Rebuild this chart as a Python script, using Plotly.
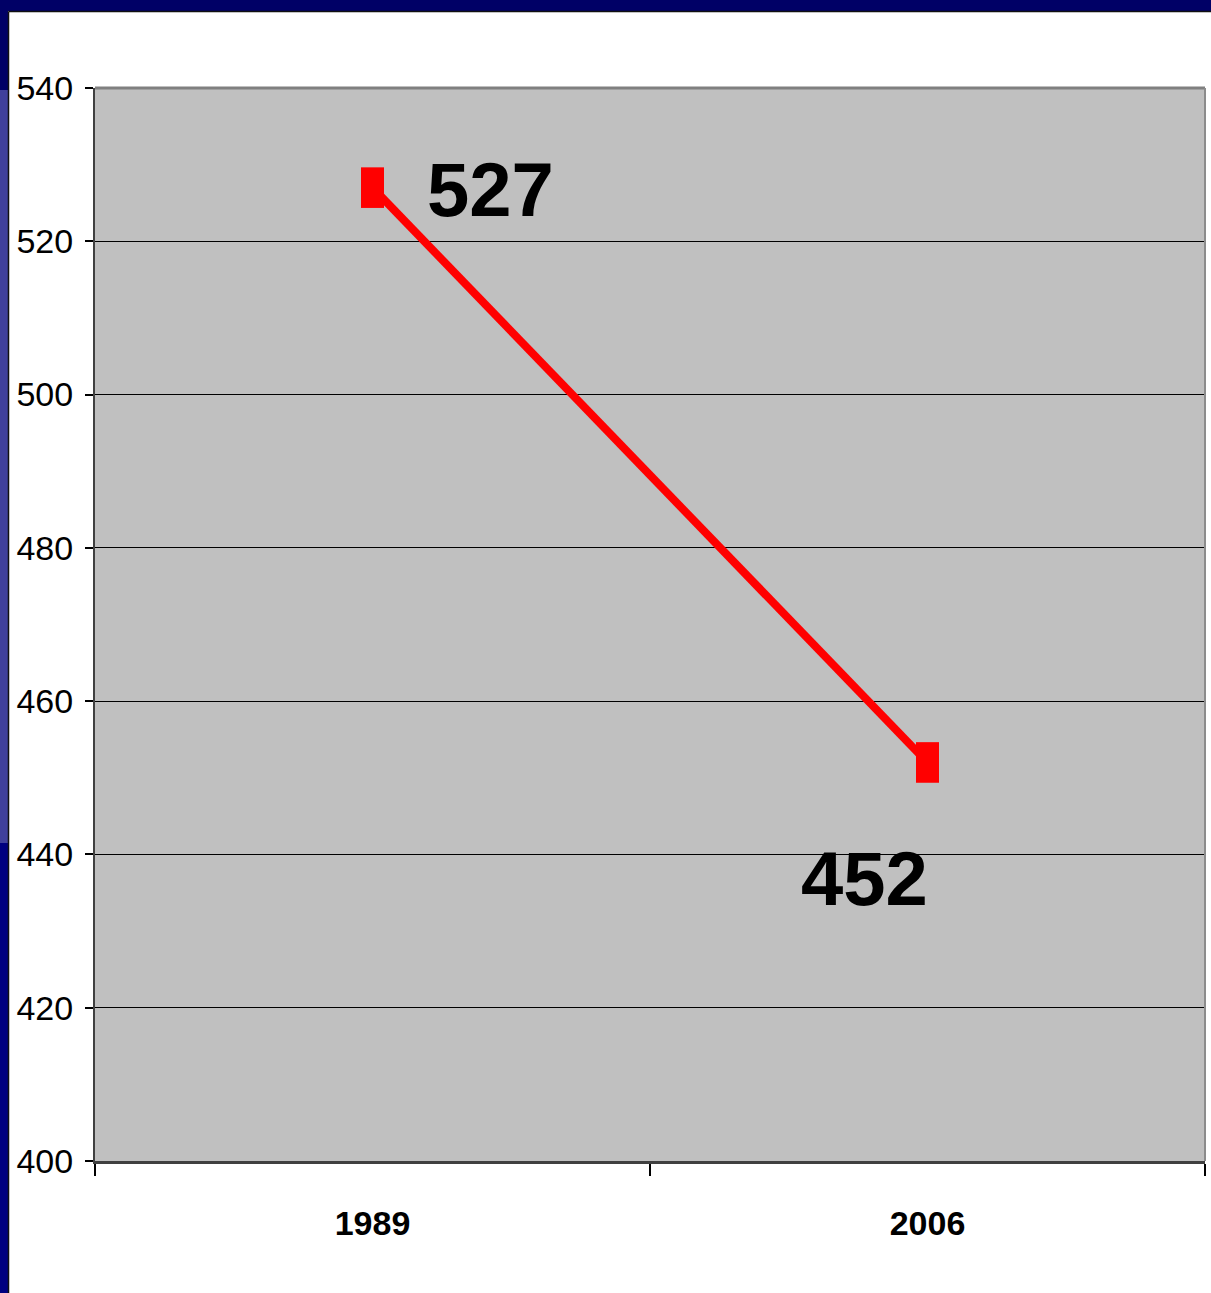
import plotly.graph_objects as go

# Data
years = ["1989", "2006"]
values = [527, 452]
y_ticks = [400, 420, 440, 460, 480, 500, 520, 540]

W, H = 1211, 1293
L, R, T, B = 95, 6, 88, 132
PW, PH = W - L - R, H - T - B

def px(x):
    return (x - L) / PW

def py(y):
    return (H - B - y) / PH

FONT = "'Liberation Sans Narrow', 'Arial Narrow', 'Liberation Sans', Arial, sans-serif"

fig = go.Figure()
fig.add_trace(go.Scatter(
    x=years, y=values, mode="lines+markers",
    line=dict(color="#FF0000", width=8),
    marker=dict(symbol="line-ns", size=29, color="#FF0000",
                line=dict(color="#FF0000", width=23)),
    showlegend=False, hoverinfo="skip",
))

annotations = [
    dict(x=0, y=values[0], xref="x", yref="y", text=f"<b>{values[0]}</b>", showarrow=False,
         xanchor="left", yanchor="middle", xshift=52, yshift=-2,
         font=dict(family=FONT, size=76, color="black")),
    dict(x=1, y=values[1], xref="x", yref="y", text=f"<b>{values[1]}</b>", showarrow=False,
         xanchor="right", yanchor="middle", xshift=2, yshift=-116,
         font=dict(family=FONT, size=76, color="black")),
]

shapes = []
shapes.append(dict(type="rect", xref="paper", yref="paper", x0=px(0), x1=px(W), y0=py(0), y1=py(11),
                   fillcolor="#000066", line=dict(width=0), layer="below"))
shapes.append(dict(type="rect", xref="paper", yref="paper", x0=px(0), x1=px(8), y0=py(0), y1=py(H),
                   fillcolor="#000080", line=dict(width=0), layer="below"))
shapes.append(dict(type="rect", xref="paper", yref="paper", x0=px(0), x1=px(8), y0=py(0), y1=py(90),
                   fillcolor="#000066", line=dict(width=0), layer="below"))
shapes.append(dict(type="rect", xref="paper", yref="paper", x0=px(0), x1=px(8), y0=py(90), y1=py(843),
                   fillcolor="#40409C", line=dict(width=0), layer="below"))
shapes.append(dict(type="line", xref="paper", yref="paper", x0=px(8.5), x1=px(W), y0=py(11.5), y1=py(11.5),
                   line=dict(color="#111111", width=1.5), layer="below"))
shapes.append(dict(type="line", xref="paper", yref="paper", x0=px(8.5), x1=px(8.5), y0=py(11.5), y1=py(H),
                   line=dict(color="#111111", width=1.5), layer="below"))
shapes.append(dict(type="line", xref="paper", yref="paper", x0=0, x1=1, y0=1, y1=1,
                   line=dict(color="#808080", width=3), layer="above"))
shapes.append(dict(type="line", xref="paper", yref="paper", x0=1, x1=1, y0=0, y1=1,
                   line=dict(color="#8C8C8C", width=2), layer="above"))

fig.update_layout(
    width=W, height=H,
    margin=dict(l=L, r=R, t=T, b=B),
    paper_bgcolor="white",
    plot_bgcolor="#C0C0C0",
    shapes=shapes,
    annotations=annotations,
    xaxis=dict(
        type="category", range=[-0.5, 1.5],
        tickson="boundaries", ticks="outside", ticklen=12, tickwidth=1.5, tickcolor="black",
        showgrid=False, showline=True, linecolor="#404040", linewidth=3,
        tickfont=dict(family=FONT, size=34, color="black"),
        ticktext=[f"<b>{y}</b>" for y in years], tickvals=years,
        ticklabelstandoff=30, zeroline=False,
    ),
    yaxis=dict(
        range=[400, 540], tickvals=y_ticks, ticktext=[str(v) for v in y_ticks],
        ticks="outside", ticklen=8, tickwidth=1.5, tickcolor="black",
        showgrid=True, gridcolor="#000000", gridwidth=1,
        showline=True, linecolor="#404040", linewidth=2,
        tickfont=dict(family=FONT, size=34, color="black"),
        ticklabelstandoff=5, zeroline=False,
    ),
)

fig.write_html("out.html")
